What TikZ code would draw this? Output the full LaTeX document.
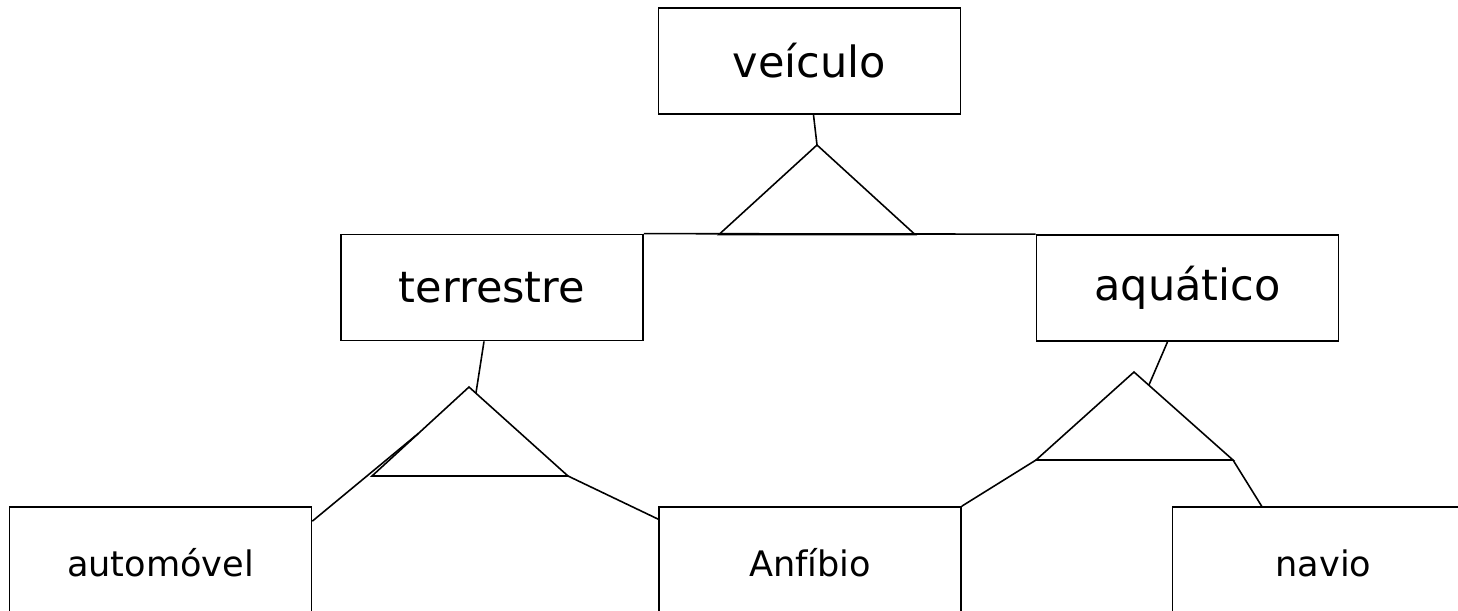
\documentclass[tikz,border=0pt]{standalone}
\usepackage{fontspec}
\setmainfont{DejaVu Sans}
\usetikzlibrary{positioning,calc}
\tikzset{
    entBase/.style={
        rectangle,
        draw,
        line width=1pt,
        minimum width=6.04cm,
        minimum height=2.12cm,
        inner sep=0pt,
        align=center
    },
    % upper and lower levels
    entTop/.style={entBase, font=\fontsize{24.5}{28}\selectfont},
    entLeaf/.style={entBase, minimum height=2.24cm, font=\fontsize{20}{24}\selectfont},
    % specialisation triangle and links
    isa/.style={draw, line width=0.9pt, line join=miter},
    link/.style={draw, line width=0.9pt}
}
\begin{document}
\begin{tikzpicture}[x=0.02cm, y=-0.02cm]
\useasboundingbox (0,0) rectangle (1458,610);
\clip (0,0) rectangle (1458,610);

% Entities
\node[entTop] (veiculo) at (809.5,61) {veículo};
\node[entTop] (terrestre) at (492,287.5) {terrestre};
\node[entTop] (aquatico) at (1187.5,288) {aquático};
\foreach \n/\x/\t in {automovel/160.5/automóvel, anfibio/810/Anfíbio, navio/1323.5/navio} {
    \node[entLeaf] (\n) at (\x,563) {\t};
}

% Triangles (apex, base left, base right)
\coordinate (t1a) at (817,145);
\coordinate (t1l) at (719,234.5);
\coordinate (t1r) at (915,234.5);
\coordinate (t2a) at (469,387);
\coordinate (t2l) at (372,476);
\coordinate (t2r) at (568,476);
\coordinate (t3a) at (1134,372);
\coordinate (t3l) at (1036,460);
\coordinate (t3r) at (1233,460);
\foreach \t in {t1,t2,t3} {
    \draw[isa] (\t a) -- (\t l) -- (\t r) -- cycle;
}

% veículo -> terrestre / aquático
\draw[link] ($(veiculo.south)+(4,0)$) -- (t1a);
\draw[link] (terrestre.north east) -- (aquatico.north west);

% terrestre -> automóvel / Anfíbio
\draw[link] ($(terrestre.south)+(-8,0)$) -- ($(t2a)!0.07!(t2r)$);
\draw[link] ($(automovel.north east)+(0,15)$) -- ($(t2a)!0.52!(t2l)$);
\draw[link] (t2r) -- ($(anfibio.north west)+(0,13)$);

% aquático -> Anfíbio / navio
\draw[link] ($(aquatico.south)+(-20,0)$) -- ($(t3a)!0.15!(t3r)$);
\draw[link] (t3l) -- (anfibio.north east);
\draw[link] (t3r) -- ($(navio.north west)+(90,0)$);
\end{tikzpicture}
\end{document}
